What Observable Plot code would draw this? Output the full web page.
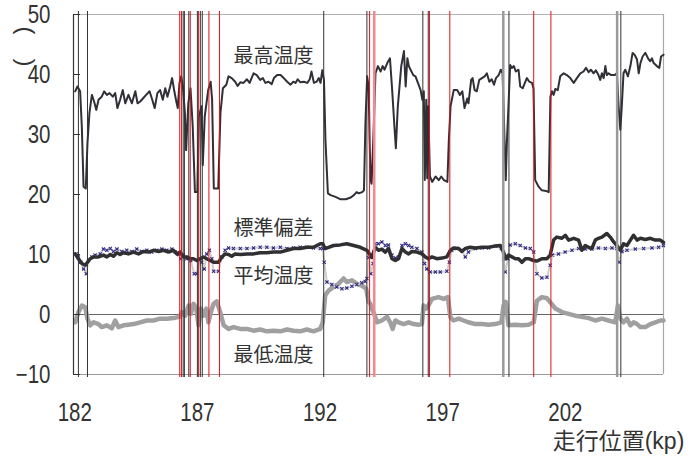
<!DOCTYPE html>
<html>
<head>
<meta charset="utf-8">
<script src="https://cdn.jsdelivr.net/npm/d3@7"></script>
<script src="https://cdn.jsdelivr.net/npm/@observablehq/plot@0.6"></script>
<style>
  html, body { margin: 0; padding: 0; background: #fff; }
  #chart svg { display: block; }
</style>
</head>
<body>
<div id="chart"></div>
<script>
// ---- data ----
const xDomain = [181.95, 206.0];
const yDomain = [-10, 50];
const xTicks = [182, 187, 192, 197, 202];
const yTicks = [-10, 0, 10, 20, 30, 40, 50];

const seriesLabels = ["最高温度", "標準偏差", "平均温度", "最低温度"];
const yTitle = "(\u3000)";
const xTitle = "走行位置(kp)";

// 最高温度 [kp, ℃]
const maxTemp = [[182.02,37.2],[182.11,38.0],[182.22,37.2],[182.29,31.3],[182.36,21.3],[182.45,21.0],[182.52,28.6],[182.60,33.6],[182.70,36.6],[182.79,35.5],[182.88,34.1],[182.97,35.8],[183.10,36.3],[183.20,37.2],[183.31,36.6],[183.42,36.9],[183.55,36.3],[183.65,36.9],[183.74,34.4],[183.85,35.8],[183.96,37.4],[184.06,35.2],[184.19,36.6],[184.33,35.2],[184.47,37.2],[184.56,35.2],[184.67,35.5],[184.78,36.0],[184.91,36.6],[185.05,37.2],[185.16,35.8],[185.26,34.4],[185.37,36.9],[185.48,37.4],[185.59,35.8],[185.69,37.7],[185.78,36.3],[185.89,38.0],[185.97,39.4],[186.06,37.2],[186.14,35.5],[186.20,34.4],[186.27,38.6],[186.34,39.7],[186.41,38.0],[186.49,33.6],[186.54,27.4],[186.63,35.2],[186.72,37.7],[186.81,31.3],[186.90,20.4],[187.00,20.4],[187.06,33.0],[187.17,34.7],[187.22,24.9],[187.30,33.0],[187.44,37.4],[187.54,38.8],[187.60,35.8],[187.67,21.0],[187.85,21.0],[187.94,33.6],[188.04,37.7],[188.18,38.3],[188.27,39.7],[188.40,39.4],[188.54,38.8],[188.64,38.1],[188.75,38.7],[188.88,38.6],[189.02,39.2],[189.13,38.6],[189.29,40.2],[189.42,39.9],[189.56,39.1],[189.67,39.4],[189.77,38.6],[189.90,38.8],[190.03,38.4],[190.12,39.4],[190.25,39.9],[190.39,39.9],[190.52,39.4],[190.66,38.8],[190.80,38.3],[190.91,38.8],[191.00,38.6],[191.09,39.2],[191.20,38.7],[191.34,38.8],[191.48,38.6],[191.58,39.2],[191.65,40.5],[191.75,38.6],[191.86,38.8],[191.95,39.4],[192.02,38.6],[192.09,40.7],[192.16,39.1],[192.22,29.1],[192.32,20.2],[192.43,19.9],[192.63,19.6],[192.84,19.2],[193.05,19.2],[193.25,19.5],[193.38,19.9],[193.49,20.4],[193.58,20.2],[193.72,20.4],[193.79,20.7],[193.85,31.9],[193.92,39.7],[193.98,38.0],[194.02,29.1],[194.06,22.4],[194.10,21.8],[194.17,29.1],[194.26,40.2],[194.36,41.4],[194.47,40.5],[194.55,41.4],[194.63,40.8],[194.74,41.9],[194.85,42.7],[194.94,37.4],[195.04,30.8],[195.09,27.7],[195.17,34.7],[195.31,41.4],[195.42,43.9],[195.49,38.0],[195.56,42.7],[195.62,41.4],[195.69,40.8],[195.80,39.9],[195.89,39.7],[195.99,38.6],[196.10,37.4],[196.17,35.8],[196.23,37.2],[196.27,22.4],[196.33,35.8],[196.37,22.7],[196.41,34.7],[196.48,23.0],[196.57,22.1],[196.71,23.0],[196.84,22.4],[196.94,23.0],[197.05,22.4],[197.19,22.1],[197.25,29.1],[197.32,34.7],[197.45,37.4],[197.59,37.4],[197.70,36.6],[197.80,37.2],[197.89,34.4],[198.00,36.0],[198.05,35.2],[198.16,39.1],[198.22,39.4],[198.30,37.4],[198.39,37.2],[198.49,39.1],[198.60,39.4],[198.71,39.7],[198.80,40.2],[198.90,38.8],[199.00,39.2],[199.09,38.3],[199.17,39.4],[199.28,39.9],[199.37,40.8],[199.44,40.2],[199.52,29.1],[199.57,22.4],[199.62,29.1],[199.68,34.7],[199.75,41.6],[199.82,41.1],[199.90,41.4],[199.98,40.5],[200.09,40.8],[200.16,38.0],[200.26,37.7],[200.37,38.8],[200.43,39.4],[200.53,38.8],[200.64,38.6],[200.70,37.7],[200.77,22.4],[200.91,21.3],[201.04,20.7],[201.21,20.6],[201.32,20.4],[201.39,36.3],[201.45,37.2],[201.52,36.6],[201.59,37.6],[201.69,37.4],[201.79,39.7],[201.93,40.2],[202.06,39.9],[202.20,39.4],[202.34,38.6],[202.47,39.4],[202.61,40.2],[202.74,40.5],[202.84,41.1],[202.95,40.4],[203.04,40.8],[203.15,40.2],[203.24,40.7],[203.35,39.9],[203.42,39.1],[203.49,40.2],[203.56,39.4],[203.63,41.4],[203.69,39.9],[203.76,40.2],[203.87,39.9],[204.01,39.9],[204.10,40.2],[204.17,34.7],[204.24,30.8],[204.30,34.7],[204.37,40.2],[204.44,40.8],[204.55,39.7],[204.65,41.4],[204.74,43.6],[204.82,43.3],[204.92,42.5],[204.99,40.2],[205.06,41.9],[205.15,43.0],[205.26,43.6],[205.37,42.7],[205.46,42.2],[205.53,42.7],[205.60,41.9],[205.73,41.4],[205.83,41.1],[205.90,43.0],[206.00,43.3]];

// 標準偏差
const stdDev = [[182.02,10.1],[182.15,9.3],[182.29,8.5],[182.43,8.2],[182.52,8.7],[182.63,9.3],[182.77,9.6],[182.97,9.6],[183.17,9.9],[183.31,9.6],[183.45,10.0],[183.58,9.7],[183.72,10.3],[183.85,10.0],[183.99,10.3],[184.19,10.1],[184.40,10.4],[184.60,10.1],[184.80,10.5],[185.01,10.4],[185.21,10.7],[185.42,10.5],[185.62,10.7],[185.82,10.4],[186.03,10.7],[186.16,10.1],[186.30,10.4],[186.43,9.6],[186.57,9.6],[186.71,9.3],[186.84,9.3],[186.98,9.0],[187.12,9.3],[187.25,9.6],[187.38,9.3],[187.52,9.0],[187.66,8.7],[187.86,8.7],[188.00,9.6],[188.13,10.1],[188.27,10.0],[188.40,9.7],[188.54,10.1],[188.75,10.0],[189.02,10.1],[189.29,10.1],[189.56,10.3],[189.83,10.3],[190.10,10.4],[190.38,10.4],[190.65,10.7],[190.92,11.0],[191.19,11.0],[191.46,11.2],[191.73,11.2],[192.01,11.8],[192.11,11.8],[192.21,11.0],[192.35,11.2],[192.55,11.5],[192.82,11.6],[193.09,11.8],[193.37,11.5],[193.64,11.2],[193.91,10.7],[194.11,9.5],[194.25,11.2],[194.38,10.7],[194.52,10.9],[194.66,10.4],[194.79,11.0],[194.93,9.3],[195.07,9.0],[195.20,9.3],[195.34,11.0],[195.48,10.4],[195.61,10.1],[195.74,10.5],[195.95,10.4],[196.15,10.1],[196.29,9.6],[196.42,9.3],[196.56,9.6],[196.76,9.3],[196.97,9.4],[197.17,9.6],[197.31,10.7],[197.44,11.1],[197.65,11.0],[197.78,10.5],[197.92,11.0],[198.12,11.2],[198.33,11.1],[198.60,11.2],[198.87,11.2],[199.14,11.4],[199.35,11.5],[199.48,10.4],[199.57,9.3],[199.68,9.9],[199.82,9.6],[199.96,9.3],[200.09,9.3],[200.23,8.7],[200.37,9.3],[200.50,9.3],[200.70,9.0],[200.84,8.9],[201.04,9.3],[201.25,9.3],[201.38,9.9],[201.52,12.4],[201.65,12.9],[201.86,12.7],[202.00,13.2],[202.13,12.4],[202.34,12.7],[202.54,12.4],[202.67,10.7],[202.81,11.5],[202.95,11.2],[203.08,11.0],[203.22,12.4],[203.35,12.7],[203.49,12.9],[203.69,13.5],[203.83,12.9],[203.97,12.1],[204.10,11.5],[204.24,10.7],[204.37,11.8],[204.51,11.5],[204.65,12.4],[204.78,13.2],[204.92,12.4],[205.06,12.7],[205.26,12.5],[205.46,12.7],[205.67,12.4],[205.87,12.4],[206.00,12.0]];

// 平均温度
const meanTemp = [[182.06,10.1],[182.15,9.6],[182.25,8.7],[182.36,7.6],[182.47,6.8],[182.56,9.0],[182.70,9.6],[182.83,9.9],[183.04,10.1],[183.17,10.9],[183.31,10.7],[183.45,11.0],[183.58,10.5],[183.72,10.9],[183.92,10.5],[184.12,10.7],[184.33,10.5],[184.53,10.9],[184.73,10.5],[184.94,10.7],[185.14,10.4],[185.35,10.7],[185.55,10.9],[185.75,10.7],[185.96,10.9],[186.10,10.4],[186.23,10.0],[186.32,9.3],[186.43,9.9],[186.57,9.3],[186.73,9.0],[186.87,6.8],[186.98,6.8],[187.09,9.3],[187.18,8.7],[187.28,7.6],[187.38,10.1],[187.49,10.7],[187.59,9.3],[187.66,7.2],[187.86,7.2],[188.00,9.6],[188.13,10.7],[188.27,11.1],[188.47,11.0],[188.75,11.0],[189.02,11.0],[189.29,11.1],[189.56,11.2],[189.83,11.2],[190.10,11.1],[190.38,11.2],[190.65,11.0],[190.92,11.1],[191.19,11.2],[191.46,11.2],[191.73,11.1],[192.01,11.0],[192.11,11.0],[192.17,8.7],[192.28,5.4],[192.48,5.0],[192.68,4.6],[192.89,4.3],[193.09,4.4],[193.30,4.7],[193.50,5.0],[193.70,5.3],[193.84,5.5],[193.91,6.0],[193.98,9.5],[194.07,6.8],[194.16,8.5],[194.25,11.8],[194.38,11.8],[194.52,12.1],[194.66,11.5],[194.79,11.6],[194.93,9.9],[195.07,9.4],[195.20,9.6],[195.34,11.5],[195.48,11.8],[195.61,11.5],[195.74,11.2],[195.95,11.0],[196.15,10.4],[196.26,8.5],[196.35,7.6],[196.49,7.1],[196.70,7.1],[196.90,7.1],[197.17,7.2],[197.27,8.7],[197.37,10.7],[197.58,11.0],[197.78,10.7],[197.92,9.6],[198.05,10.4],[198.33,11.0],[198.60,11.1],[198.87,11.1],[199.14,11.4],[199.39,11.0],[199.48,9.3],[199.55,7.1],[199.66,9.3],[199.75,11.6],[199.96,11.8],[200.16,11.5],[200.37,11.1],[200.57,11.0],[200.71,10.4],[200.84,6.8],[201.04,6.1],[201.25,6.2],[201.38,8.2],[201.48,9.9],[201.72,10.1],[201.99,10.4],[202.27,10.7],[202.54,11.0],[202.81,10.9],[203.08,10.9],[203.35,11.1],[203.63,11.0],[203.90,11.1],[204.10,11.0],[204.20,8.7],[204.31,10.5],[204.51,10.7],[204.85,10.9],[205.19,11.0],[205.53,11.1],[205.80,11.2],[206.00,11.5]];

// 最低温度
const minTemp = [[182.02,-1.3],[182.15,0.4],[182.29,1.5],[182.43,1.2],[182.52,-0.7],[182.63,-1.8],[182.77,-1.3],[182.97,-1.6],[183.10,-2.1],[183.31,-1.8],[183.51,-2.3],[183.65,-1.0],[183.78,-2.1],[183.99,-1.8],[184.19,-1.7],[184.40,-1.6],[184.67,-1.3],[184.94,-1.0],[185.21,-1.0],[185.48,-0.7],[185.75,-0.7],[186.03,-0.6],[186.27,-0.4],[186.37,0.4],[186.50,-0.2],[186.64,1.5],[186.73,0.1],[186.84,1.8],[186.95,1.0],[187.05,-1.8],[187.14,1.0],[187.25,-0.2],[187.36,1.0],[187.45,-1.3],[187.55,0.4],[187.66,1.8],[187.79,2.2],[187.93,0.4],[188.07,-1.8],[188.27,-2.4],[188.47,-2.1],[188.75,-2.4],[189.02,-2.4],[189.29,-2.7],[189.56,-2.5],[189.83,-2.8],[190.10,-2.7],[190.38,-2.8],[190.65,-2.5],[190.92,-2.7],[191.19,-2.8],[191.46,-2.5],[191.73,-2.8],[192.01,-2.4],[192.11,-1.3],[192.21,3.2],[192.35,4.0],[192.55,4.6],[192.75,5.1],[192.96,6.0],[193.09,5.4],[193.30,5.7],[193.50,5.1],[193.70,4.8],[193.88,4.3],[193.98,2.1],[194.05,1.8],[194.11,1.0],[194.18,0.4],[194.32,-1.3],[194.52,-1.0],[194.73,-0.4],[194.86,-1.3],[194.96,-2.4],[195.07,-1.0],[195.20,-1.3],[195.41,-1.6],[195.61,-1.3],[195.81,-1.6],[196.02,-1.7],[196.15,-1.6],[196.22,1.5],[196.32,1.0],[196.42,1.5],[196.56,2.6],[196.83,2.9],[197.04,2.6],[197.21,2.9],[197.31,-0.4],[197.44,-1.0],[197.65,-0.7],[197.85,-1.0],[198.05,-1.3],[198.33,-1.6],[198.60,-1.6],[198.87,-1.7],[199.14,-1.6],[199.39,-1.3],[199.48,1.5],[199.57,2.1],[199.68,-1.8],[199.96,-1.7],[200.23,-1.8],[200.50,-1.7],[200.71,-1.3],[200.84,2.3],[201.04,2.9],[201.25,2.7],[201.43,1.8],[201.59,1.0],[201.86,0.4],[202.13,0.1],[202.40,-0.2],[202.67,-0.4],[202.95,-0.6],[203.22,-1.0],[203.49,-0.7],[203.76,-1.0],[204.03,-1.3],[204.14,1.5],[204.24,-0.7],[204.37,-1.3],[204.51,-0.7],[204.65,-1.8],[204.78,-1.3],[204.92,-1.6],[205.06,-2.1],[205.26,-2.1],[205.46,-1.6],[205.67,-1.3],[205.87,-1.0],[206.00,-1.0]];

// event markers (kp)
const blackMarks = [182.15, 182.52, 186.42, 186.47, 186.65, 187.00, 187.12, 187.20, 192.15, 193.91, 196.19, 196.41, 199.70, 204.26];
const grayMarks = [199.47, 204.11];
const redMarks = [186.28, 186.35, 186.71, 187.05, 187.47, 187.90, 194.02, 196.46, 197.29, 200.71, 201.41];
const pinkMarks = [194.21];

// ---- chart ----
const latin = "'Liberation Sans', 'Noto Sans CJK JP', sans-serif";
const cjk = "'Noto Sans CJK JP', sans-serif";

const chart = Plot.plot({
  width: 696,
  height: 457,
  marginLeft: 73,
  marginRight: 33,
  marginTop: 14,
  marginBottom: 83,
  style: {background: "#fff", fontFamily: latin, color: "#333", fontSize: "25px"},
  x: {domain: xDomain},
  y: {domain: yDomain},
  marks: [
    // frame pieces
    Plot.ruleY([yDomain[1]], {stroke: "#b3b3b3", strokeWidth: 1.2}),
    Plot.ruleY([yDomain[0]], {stroke: "#9a9a9a", strokeWidth: 1.2}),
    Plot.ruleX([xDomain[1]], {stroke: "#a8a8a8", strokeWidth: 1.2}),
    Plot.ruleY([0], {stroke: "#666", strokeWidth: 1}),
    // series
    Plot.line(minTemp, {x: d => d[0], y: d => d[1], stroke: "#a0a0a0", strokeWidth: 4.5}),
    Plot.line(meanTemp, {x: d => d[0], y: d => d[1], stroke: "#cfcfcf", strokeWidth: 2}),
    Plot.dot(meanTemp, {x: d => d[0], y: d => d[1], symbol: "times", r: 1.6, stroke: "#2e2a86", strokeWidth: 1.1}),
    Plot.line(stdDev, {x: d => d[0], y: d => d[1], stroke: "#303033", strokeWidth: 3.5}),
    Plot.line(maxTemp, {x: d => d[0], y: d => d[1], stroke: "#303036", strokeWidth: 2}),
    // event markers
    Plot.ruleX(grayMarks, {stroke: "#9a9a9a", strokeWidth: 2.5, insetTop: -3, insetBottom: -3}),
    Plot.ruleX(blackMarks, {stroke: "#333", strokeWidth: 1, insetTop: -3, insetBottom: -3}),
    Plot.ruleX(redMarks, {stroke: "#e0101a", strokeWidth: 1, insetTop: -3, insetBottom: -3}),
    Plot.ruleX(pinkMarks, {stroke: "#f08a90", strokeWidth: 2.5, insetTop: -3, insetBottom: -3}),
    // left axis line and inner ticks
    Plot.ruleX([xDomain[0]], {stroke: "#333", strokeWidth: 1.2}),
    Plot.tickY(yTicks, {stroke: "#333", strokeWidth: 1, insetRight: 583}),
    // axes
    Plot.axisY({ticks: yTicks, tickSize: 0, tickPadding: 23, label: null, fontSize: 25, fill: "#333"}),
    Plot.axisX({ticks: xTicks, tickFormat: d => String(d), tickSize: 0, tickPadding: 29, label: null, fontSize: 25, fill: "#333"}),
    // series labels
    Plot.text([seriesLabels[0]], {x: 190.1, y: 42.95, fontFamily: cjk, fontSize: 20, fill: "#333"}),
    Plot.text([seriesLabels[1]], {x: 190.1, y: 14.4, fontFamily: cjk, fontSize: 20, fill: "#333"}),
    Plot.text([seriesLabels[2]], {x: 190.1, y: 6.3, fontFamily: cjk, fontSize: 20, fill: "#333"}),
    Plot.text([seriesLabels[3]], {x: 190.1, y: -6.85, fontFamily: cjk, fontSize: 20, fill: "#333"}),
    // axis titles
    Plot.text([yTitle], {frameAnchor: "top-left", dx: -51, dy: 32, rotate: -90, textAnchor: "middle", lineAnchor: "middle", fontSize: 24, fill: "#333"}),
    Plot.text([xTitle], {frameAnchor: "bottom-right", dx: -45, dy: 67, textAnchor: "middle", lineAnchor: "middle", fontSize: 23, fill: "#333"})
  ]
});

// condense the numeric tick labels horizontally (narrow face look)
chart.querySelectorAll('g[aria-label="x-axis tick label"] text, g[aria-label="y-axis tick label"] text').forEach(t => {
  const tr = t.getAttribute("transform");
  if (tr) {
    t.setAttribute("transform", tr + " scale(0.82,1)");
  } else {
    const x = +(t.getAttribute("x") || 0), y = +(t.getAttribute("y") || 0);
    t.removeAttribute("x"); t.removeAttribute("y");
    t.setAttribute("transform", `translate(${x},${y}) scale(0.82,1)`);
  }
});

document.getElementById("chart").appendChild(chart);
</script>
</body>
</html>
